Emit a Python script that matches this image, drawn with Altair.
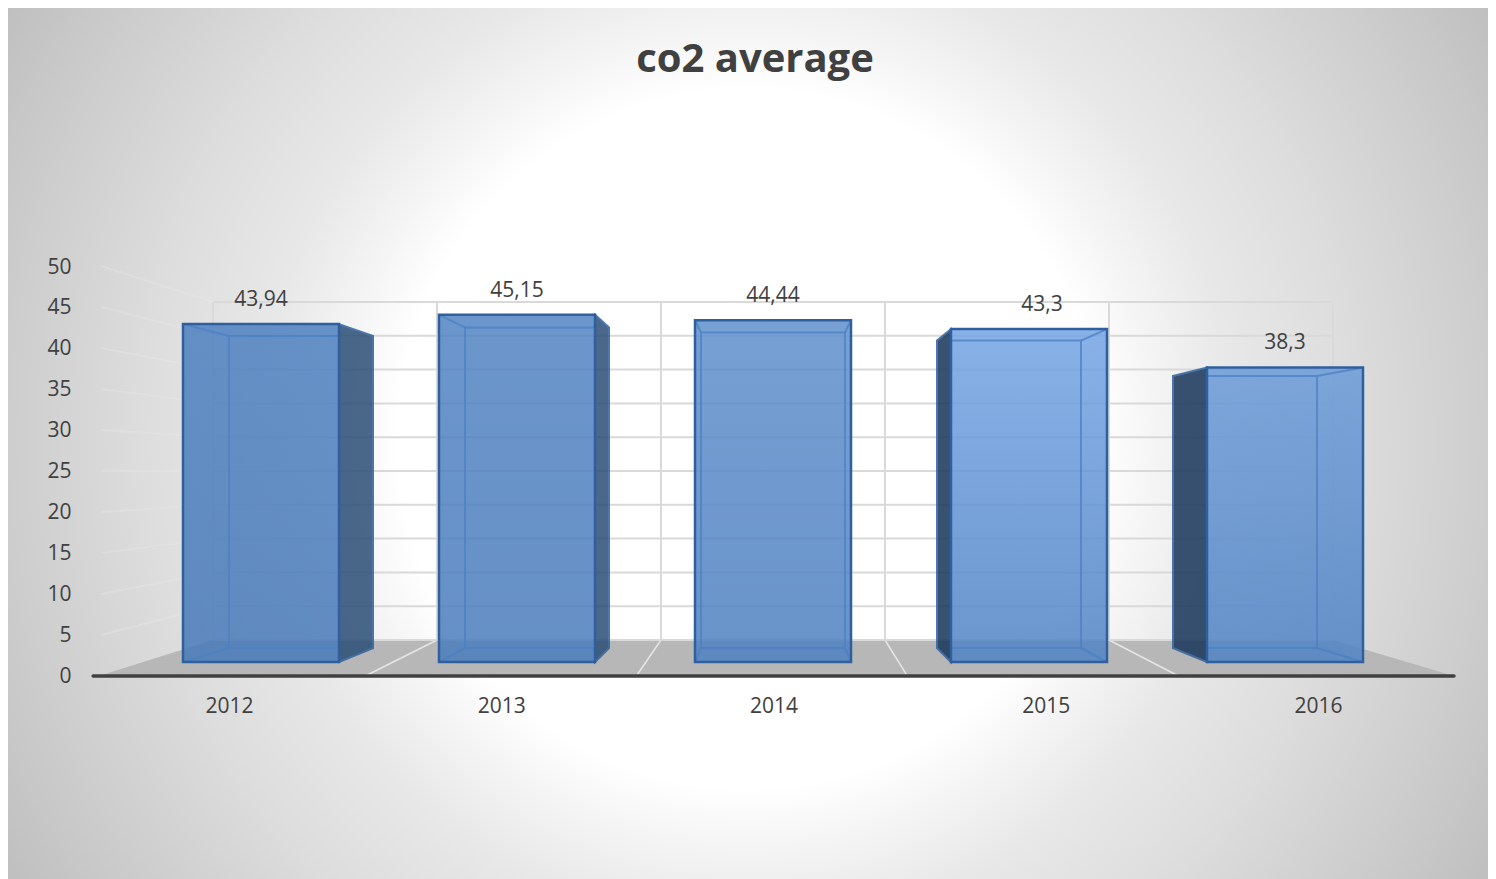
import altair as alt
import pandas as pd

years = [2012, 2013, 2014, 2015, 2016]
co2 = [43.94, 45.15, 44.44, 43.3, 38.3]
value_labels = ["43,94", "45,15", "44,44", "43,3", "38,3"]
ticks = [0, 5, 10, 15, 20, 25, 30, 35, 40, 45, 50]
title_text = "co2 average"
FONT = "Open Sans"
W, H = 1480, 871
CENTER = 2014

top_colors = ["#4d80c0", "#5284c2", "#5f8fcc", "#74a4e4", "#6a9ad8"]
bottom_colors = ["#487ab8", "#4a7cbb", "#4d80c0", "#4f83c4", "#4f83c4"]
side_colors = ["#2b4e76", "#2b4e76", None, "#18355a", "#18355a"]
EDGE = "#2f5f9e"
INNER = "#4a80c4"

# three depth planes of the fake 3D scene, each with its own scales
F_X = alt.Scale(domain=[2012, 2016], range=[253, 1277])
F_Y = alt.Scale(domain=[0, 50], range=[654, 269.5])
W_X = alt.Scale(domain=[2012, 2016], range=[317, 1213])
W_Y = alt.Scale(domain=[0, 50], range=[632, 294])
L_X = alt.Scale(domain=years, range=[85, 1446], paddingInner=0, paddingOuter=0)
L_Y = alt.Scale(domain=[0, 50], range=[668, 259])

F_HALF, B_HALF = 78 / 256, 72 / 256
B_STEP = 236 / 256
B_BASE, B_GAIN = 14 / 7.69, 7.1 / 7.69


def back_c(y):
    return CENTER + (y - CENTER) * B_STEP


def back_v(v):
    return B_BASE + v * B_GAIN


def fx(f, **k):
    return alt.X(f, type="quantitative", scale=F_X, axis=None, **k)


def fy(f, **k):
    return alt.Y(f, type="quantitative", scale=F_Y, axis=None, **k)


def wx(f):
    return alt.X(f, type="quantitative", scale=W_X, axis=None)


def wy(f):
    return alt.Y(f, type="quantitative", scale=W_Y, axis=None)


bars = pd.DataFrame({"year": years, "co2": co2, "label": value_labels})
bars["x0"] = bars.year - F_HALF
bars["x1"] = bars.year + F_HALF
bars["zero"] = 0.0
bars["bx0"] = [back_c(y) - B_HALF for y in years]
bars["bx1"] = [back_c(y) + B_HALF for y in years]
bars["ix0"] = bars[["bx0", "x0"]].max(axis=1)
bars["ix1"] = bars[["bx1", "x1"]].min(axis=1)
bars["btop"] = [back_v(v) for v in co2]
bars["bbot"] = B_BASE

layers = []

# background
layers.append(
    alt.Chart(pd.DataFrame({"a": [0]}))
    .mark_rect(
        fill=alt.RadialGradient(
            gradient="radial", x1=0.5, y1=0.497, r1=0, x2=0.5, y2=0.497, r2=0.62,
            stops=[
                alt.GradientStop(color="#ffffff", offset=0),
                alt.GradientStop(color="#ffffff", offset=0.38),
                alt.GradientStop(color="#f5f5f5", offset=0.442),
                alt.GradientStop(color="#e8e8e8", offset=0.53),
                alt.GradientStop(color="#dedede", offset=0.647),
                alt.GradientStop(color="#cccccc", offset=0.82),
                alt.GradientStop(color="#c0c0c0", offset=0.93),
                alt.GradientStop(color="#bcbcbc", offset=1),
            ],
        )
    )
    .encode(x=alt.value(0), x2=alt.value(W), y=alt.value(0), y2=alt.value(H))
)

# floor
WALL_L, WALL_R = 2011.5, 2016.5
TIP_L, TIP_R = 2010.99, 2017.04
FLOOR_V = -5.33
floor = pd.DataFrame(
    {
        "x": [TIP_L, WALL_L, WALL_R, TIP_R],
        "top": [FLOOR_V, 0, 0, FLOOR_V],
        "bot": [FLOOR_V] * 4,
    }
)
layers.append(
    alt.Chart(floor).mark_area(color="#b7b7b7").encode(
        x=wx("x"), y=wy("top"), y2=alt.Y2("bot")
    )
)

# floor partition lines
cuts = pd.DataFrame(
    {
        "x": [2012.5, 2013.5, 2014.5, 2015.5],
        "x2": [2012.18, 2013.39, 2014.60, 2015.81],
        "y": [0.0] * 4,
        "y2": [FLOOR_V] * 4,
    }
)
layers.append(
    alt.Chart(cuts).mark_rule(color="#e6e6e6", strokeWidth=1.5).encode(
        x=wx("x"), x2=alt.X2("x2"), y=wy("y"), y2=alt.Y2("y2")
    )
)

# left wall
left = pd.DataFrame({"t": ticks[1:]})
left["y2"] = (640 - (676 - 8.2 * left.t)) / 6.76
left["x"] = WALL_L
left["x2"] = 2011.0
layers.append(
    alt.Chart(left).mark_rule(color="#e8e8e8", strokeWidth=2, opacity=0.35).encode(
        x=wx("x"), x2=alt.X2("x2"), y=wy("t"), y2=alt.Y2("y2")
    )
)

# back wall grid
grid_h = pd.DataFrame({"t": ticks, "x": WALL_L, "x2": WALL_R})
layers.append(
    alt.Chart(grid_h).mark_rule(color="#d9d9d9", strokeWidth=2).encode(
        x=wx("x"), x2=alt.X2("x2"), y=wy("t")
    )
)
grid_v = pd.DataFrame({"x": [2011.5, 2012.5, 2013.5, 2014.5, 2015.5, 2016.5], "lo": 0, "hi": 50})
layers.append(
    alt.Chart(grid_v).mark_rule(color="#d9d9d9", strokeWidth=2).encode(
        x=wx("x"), y=wy("lo"), y2=alt.Y2("hi")
    )
)

# the bars
for i, yr in enumerate(years):
    r = bars[bars.year == yr].iloc[0]
    if side_colors[i]:
        if yr < CENTER:
            sx, sb = r.x1, r.bx1
        else:
            sx, sb = r.x0, r.bx0
        side = pd.DataFrame(
            {"x": [sx, sb], "top": [r.co2, r.btop], "bot": [0.0, r.bbot]}
        )
        layers.append(
            alt.Chart(side)
            .mark_area(color=side_colors[i], opacity=0.85, stroke=EDGE, strokeWidth=2)
            .encode(x=fx("x"), y=fy("top"), y2=alt.Y2("bot"))
        )
    one = bars[bars.year == yr]
    layers.append(
        alt.Chart(one)
        .mark_rect(
            opacity=0.85,
            fill=alt.LinearGradient(
                gradient="linear", x1=0, y1=0, x2=0, y2=1,
                stops=[
                    alt.GradientStop(color=top_colors[i], offset=0),
                    alt.GradientStop(color=bottom_colors[i], offset=1),
                ],
            ),
        )
        .encode(x=fx("x0"), x2=alt.X2("x1"), y=fy("co2"), y2=alt.Y2("zero"))
    )
    # hidden back box seen through the front (only where it lies behind it)
    layers.append(
        alt.Chart(one)
        .mark_rect(fillOpacity=0, stroke=INNER, strokeWidth=2, strokeOpacity=0.75)
        .encode(x=fx("ix0"), x2=alt.X2("ix1"), y=fy("btop"), y2=alt.Y2("bbot"))
    )
    rows = []
    if yr >= CENTER:  # right corners are inside the front face
        rows += [(r.x1, r.bx1, r.co2, r.btop), (r.x1, r.bx1, 0.0, r.bbot)]
    if yr <= CENTER:  # left corners are inside the front face
        rows += [(r.x0, r.bx0, r.co2, r.btop), (r.x0, r.bx0, 0.0, r.bbot)]
    diag = pd.DataFrame(rows, columns=["x", "x2", "y", "y2"])
    layers.append(
        alt.Chart(diag)
        .mark_rule(color=INNER, strokeWidth=2, opacity=0.75)
        .encode(x=fx("x"), x2=alt.X2("x2"), y=fy("y"), y2=alt.Y2("y2"))
    )
    layers.append(
        alt.Chart(one)
        .mark_rect(fillOpacity=0, stroke=EDGE, strokeWidth=2.5)
        .encode(x=fx("x0"), x2=alt.X2("x1"), y=fy("co2"), y2=alt.Y2("zero"))
    )

# value labels
TXT = dict(font=FONT, fontSize=21, color="#404040", baseline="middle", align="center")
for subset, dx in (
    (bars[bars.year != 2015], 0),
    (bars[bars.year == 2015], 13),
):
    layers.append(
        alt.Chart(subset)
        .mark_text(dy=-24, dx=dx, **TXT)
        .encode(x=fx("year"), y=fy("co2"), text="label:N")
    )

# axis line
line = pd.DataFrame({"x": [2010.965], "x2": [2017.04], "y": [FLOOR_V]})
layers.append(
    alt.Chart(line)
    .mark_rule(color="#404040", strokeWidth=3.5, strokeCap="round")
    .encode(x=wx("x"), x2=alt.X2("x2"), y=wy("y"))
)

# axes
axis_style = dict(
    domain=False, ticks=False, grid=False, labelFont=FONT, labelFontSize=21,
    labelColor="#404040", title=None, zindex=1,
)
layers.append(
    alt.Chart(pd.DataFrame({"year": years}))
    .mark_point(opacity=0)
    .encode(
        x=alt.X(
            "year:O", scale=L_X,
            axis=alt.Axis(orient="bottom", offset=-(H - 687), labelPadding=0, labelAngle=0, **axis_style),
        ),
        y=alt.value(0),
    )
)
layers.append(
    alt.Chart(pd.DataFrame({"t": ticks}))
    .mark_point(opacity=0)
    .encode(
        y=alt.Y(
            "t:Q", scale=L_Y,
            axis=alt.Axis(orient="left", offset=-63, values=ticks, labelPadding=0, **axis_style),
        ),
        x=alt.value(0),
    )
)

chart = (
    alt.layer(*layers)
    .resolve_scale(x="independent", y="independent")
    .properties(
        width=W,
        height=H,
        padding=0,
        autosize=alt.AutoSizeParams(type="none"),
        title=alt.TitleParams(
            text=title_text, font=FONT, fontSize=40, fontWeight="bold",
            color="#404040", anchor="middle", offset=-75, dx=7,
        ),
    )
    .configure_view(stroke=None)
)
chart.save("out.html", embed_options={"renderer": "svg", "actions": False})
